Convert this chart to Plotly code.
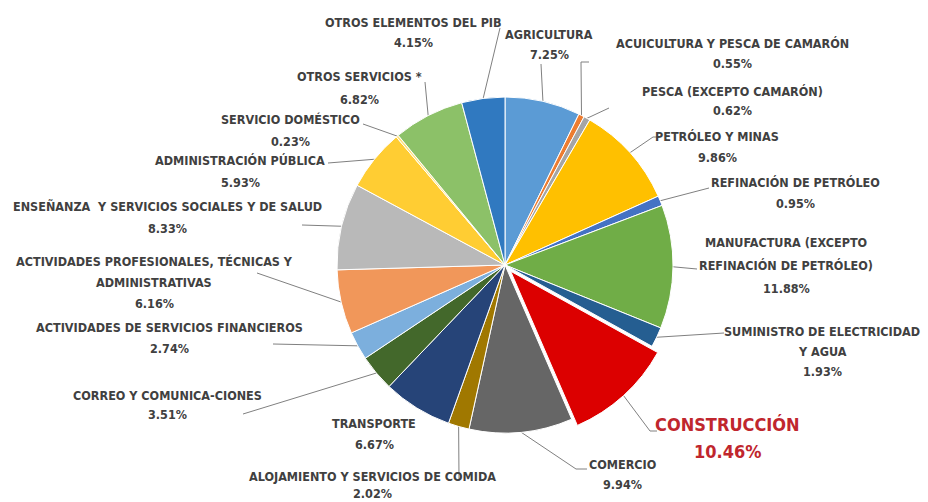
import math
import plotly.graph_objects as go

# Sector shares of GDP, listed clockwise from 12 o'clock
sectors = [
    ["AGRICULTURA"],
    ["ACUICULTURA Y PESCA DE CAMARÓN"],
    ["PESCA (EXCEPTO CAMARÓN)"],
    ["PETRÓLEO Y MINAS"],
    ["REFINACIÓN DE PETRÓLEO"],
    ["MANUFACTURA (EXCEPTO", "REFINACIÓN DE PETRÓLEO)"],
    ["SUMINISTRO DE ELECTRICIDAD", "Y AGUA"],
    ["CONSTRUCCIÓN"],
    ["COMERCIO"],
    ["ALOJAMIENTO Y SERVICIOS DE COMIDA"],
    ["TRANSPORTE"],
    ["CORREO Y COMUNICA-CIONES"],
    ["ACTIVIDADES DE SERVICIOS FINANCIEROS"],
    ["ACTIVIDADES PROFESIONALES, TÉCNICAS Y", "ADMINISTRATIVAS"],
    ["ENSEÑANZA  Y SERVICIOS SOCIALES Y DE SALUD"],
    ["ADMINISTRACIÓN PÚBLICA"],
    ["SERVICIO DOMÉSTICO"],
    ["OTROS SERVICIOS *"],
    ["OTROS ELEMENTOS DEL PIB"],
]
shares = [7.25, 0.55, 0.62, 9.86, 0.95, 11.88, 1.93, 10.46, 9.94, 2.02,
          6.67, 3.51, 2.74, 6.16, 8.33, 5.93, 0.23, 6.82, 4.15]
highlight = "CONSTRUCCIÓN"

colors = ["#5b9bd5", "#ed7d31", "#a5a5a5", "#ffc000", "#4472c4", "#70ad47",
          "#255e91", "#dc0000", "#666666", "#a07800", "#264478", "#43682b",
          "#7cafdd", "#f1975a", "#b9b9b9", "#ffcd33", "#ffe07a", "#8cc168",
          "#3079c0"]

# Page geometry (pixels)
W, H = 928, 502
CX, CY, R = 505, 265, 168
PULL = 0.05

# Label block anchors: (center x, first line y, line spacing)
label_pos = [
    (549, 34, 20), (732, 43, 20), (732, 91, 19), (717, 136, 21), (795, 182, 21),
    (786, 242, 23), (822, 331, 20), (727, 424, 27), (622, 464, 20), (372, 476, 17),
    (374, 423, 21), (167, 395, 19), (169, 327, 21), (154, 261, 21), (167, 206, 22),
    (240, 160, 22), (290, 119, 22), (359, 76, 23), (413, 22, 20),
]
# Leader paths: intermediate/end points on the label side (None = no leader)
leader_pts = [
    [(541, 64)], [(581, 62), (589, 62)], [(609, 108)], [(653, 137), (660, 137)],
    [(709, 188)], [(697, 269)], [(724, 333)], [(650, 431), (657, 431)],
    [(576, 469), (587, 469)], [(459, 480)], None, [(243, 414)], [(273, 344)],
    [(257, 273)], [(302, 225)], [(328, 163)], [(363, 124)], [(425, 82)],
    [(500, 28)],
]

pulls = [PULL if s[0] == highlight else 0 for s in sectors]
side = 2 * R * (1 + max(pulls))

fig = go.Figure()
fig.add_trace(go.Pie(
    values=shares,
    labels=[" ".join(s) for s in sectors],
    marker=dict(colors=colors, line=dict(color="white", width=1)),
    sort=False, direction="clockwise", rotation=0,
    pull=pulls, textinfo="none", hoverinfo="label+percent",
    showlegend=False,
    domain=dict(x=[(CX - side / 2) / W, (CX + side / 2) / W],
                y=[(H - CY - side / 2) / H, (H - CY + side / 2) / H]),
))

# Leader lines start on the rim of each slice at its mid-angle
total = sum(shares)
cum = 0.0
for i, v in enumerate(shares):
    mid = (cum + v / 2) / total * 2 * math.pi
    cum += v
    if leader_pts[i] is None:
        continue
    off = pulls[i] * R
    sx = CX + (R + off) * math.sin(mid)
    sy = CY - (R + off) * math.cos(mid)
    xs = [sx] + [p[0] for p in leader_pts[i]]
    ys = [sy] + [p[1] for p in leader_pts[i]]
    fig.add_trace(go.Scatter(x=xs, y=ys, mode="lines",
                             line=dict(color="#808080", width=1),
                             hoverinfo="skip", showlegend=False))

font_family = "Liberation Sans Narrow, DejaVu Sans Condensed, Arial Narrow, sans-serif"
for i, (name_lines, v) in enumerate(zip(sectors, shares)):
    x0, y0, dy = label_pos[i]
    lines = name_lines + [f"{v:.2f}%"]
    is_hl = name_lines[0] == highlight
    for j, t in enumerate(lines):
        fig.add_annotation(
            x=x0, y=y0 + j * dy, text=t, showarrow=False,
            xanchor="center", yanchor="middle",
            font=dict(family=font_family, size=18 if is_hl else 12.5,
                      color="#c0262d" if is_hl else "#404040", weight="bold"),
        )

fig.update_layout(
    width=W, height=H,
    margin=dict(l=0, r=0, t=0, b=0),
    paper_bgcolor="white", plot_bgcolor="rgba(0,0,0,0)",
    xaxis=dict(range=[0, W], visible=False, fixedrange=True),
    yaxis=dict(range=[H, 0], visible=False, fixedrange=True),
)

fig.write_html("out.html")
